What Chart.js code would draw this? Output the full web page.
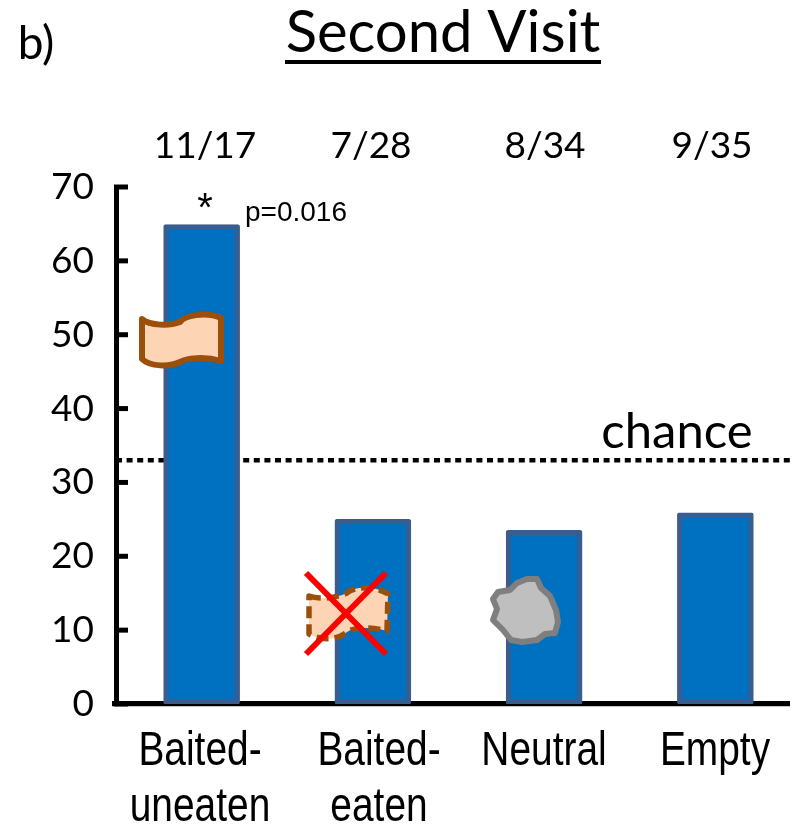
<!DOCTYPE html>
<html><head><meta charset="utf-8">
<script src="https://cdn.jsdelivr.net/npm/chart.js@4"></script>
<style>html,body{margin:0;padding:0;background:#fff}canvas{display:block}</style>
</head><body><div style="width:806px;height:830px"><canvas id="c" width="806" height="830"></canvas></div>
<script>
const categories=[['Baited-','uneaten'],['Baited-','eaten'],['Neutral'],['Empty']];
const percentCorrect=[64.9,25,23.5,25.9];
const fractions=['11/17','7/28','8/34','9/35'];
const yTicks=[0,10,20,30,40,50,60,70];
const chanceLevel=33;
const chanceLine=[{x:0,y:chanceLevel},{x:0.988,y:chanceLevel}];

function foodPath(ctx){
  ctx.beginPath();
  ctx.moveTo(142,319);
  ctx.bezierCurveTo(150,326,170,326,180,322);
  ctx.bezierCurveTo(184,316,205,311,221,318);
  ctx.lineTo(221,361);
  ctx.bezierCurveTo(205,356,186,358,180,362);
  ctx.bezierCurveTo(170,367,150,367,142,359);
  ctx.closePath();
}
const annotate={
  id:'annotate',
  beforeDatasetsDraw(chart){
    const {ctx,scales:{y}}=chart;
    const p=y.getPixelForValue(0);
    ctx.save();
    ctx.fillStyle='#000';ctx.fillRect(112,p-3,678,5);
    ctx.fillStyle='#c4c4c4';ctx.fillRect(112,p+2,678,1);
    ctx.restore();
  },
  afterDatasetsDraw(chart){
    const {ctx,scales:{x,y}}=chart;
    ctx.save();
    ctx.strokeStyle='#000';ctx.lineWidth=5;
    yTicks.forEach(v=>{const p=y.getPixelForValue(v);ctx.beginPath();ctx.moveTo(114,p);ctx.lineTo(128,p);ctx.stroke();});
    ctx.lineJoin='round';
    foodPath(ctx);ctx.fillStyle='#fdd5b5';ctx.fill();ctx.strokeStyle='#9c4f0b';ctx.lineWidth=6;ctx.stroke();
    ctx.beginPath();
    ctx.moveTo(309,596);ctx.bezierCurveTo(320,600,336,598,347,593);
    ctx.bezierCurveTo(352,587,375,585,388,594);
    ctx.lineTo(387,631);ctx.bezierCurveTo(370,626,352,628,347,632);
    ctx.bezierCurveTo(336,641,320,640,309,634);ctx.closePath();
    ctx.fillStyle='#fdd5b5';ctx.fill();
    ctx.setLineDash([12,6]);ctx.strokeStyle='#9c4f0b';ctx.lineWidth=5.5;ctx.stroke();ctx.setLineDash([]);
    ctx.strokeStyle='#ff0000';ctx.lineWidth=6;
    ctx.beginPath();ctx.moveTo(306,573);ctx.lineTo(386,654);ctx.moveTo(386,573);ctx.lineTo(306,654);ctx.stroke();
    ctx.beginPath();
    [[493,599],[498,592],[510,590],[517,583],[527,579],[537,579],[541,588],[550,596],[556,610],[558,622],[555,633],[545,634],[537,640],[522,642],[511,640],[503,630],[493,620],[497,609]]
      .forEach((p,i)=>i?ctx.lineTo(p[0],p[1]):ctx.moveTo(p[0],p[1]));
    ctx.closePath();ctx.fillStyle='#bfbfbf';ctx.fill();ctx.strokeStyle='#7f7f7f';ctx.lineWidth=6;ctx.stroke();
    ctx.fillStyle='#000';ctx.textBaseline='middle';ctx.textAlign='center';
    ctx.font='37px Lato';
    const fx=[205,371,545,712];
    fractions.forEach((f,i)=>ctx.fillText(f,fx[i],146));
    ctx.font='58px Lato';ctx.fillText('Second Visit',443,33);
    ctx.fillRect(285,60,316,4);
    ctx.font='46px Lato';ctx.fillText('b)',36,44);
    ctx.font='49px Lato';ctx.fillText('chance',677,432);
    ctx.font='40px "Liberation Sans"';ctx.fillText('*',205,210);
    ctx.font='48px "Liberation Sans"';
    const lx=[200,379,544,715];
    categories.forEach((lines,i)=>lines.forEach((t,j)=>{
      ctx.save();ctx.translate(lx[i],752+j*56);ctx.scale(0.81,1);ctx.fillText(t,0,0);ctx.restore();
    }));
    ctx.textAlign='left';
    ctx.font='28px "Liberation Sans"';ctx.fillText('p=0.016',245,213);
    ctx.restore();
  }
};
new Chart(document.getElementById('c'),{
  type:'bar',
  data:{labels:categories,datasets:[
    {type:'line',data:chanceLine,xAxisID:'xLine',yAxisID:'y',borderColor:'#000',borderWidth:4.5,borderDash:[6,4.6],pointRadius:0,order:2},
    {type:'bar',data:percentCorrect,xAxisID:'x',yAxisID:'y',backgroundColor:'#0070c0',borderColor:'#3a5d8f',borderWidth:5,borderSkipped:false,grouped:false,barThickness:76,borderRadius:2,order:1}
  ]},
  plugins:[annotate],
  options:{
    responsive:false,animation:false,
    layout:{padding:{top:187,right:5,left:0,bottom:0}},
    plugins:{legend:{display:false},tooltip:{enabled:false},title:{display:false}},
    scales:{
      x:{type:'category',offset:true,grid:{display:false,drawTicks:false},border:{display:false},
        ticks:{display:false},
        afterFit(s){s.height=126;}},
      xLine:{type:'linear',display:false,offset:false,min:0,max:1},
      y:{min:0,max:70,grid:{display:false,drawTicks:false},border:{color:'#000',width:5},
        afterBuildTicks(s){s.ticks=yTicks.map(v=>({value:v}));},
        ticks:{color:'#000',padding:22,font:{family:'Lato',size:37}},
        afterFit(s){s.width=116;}}
    }
  }
});
</script></body></html>
